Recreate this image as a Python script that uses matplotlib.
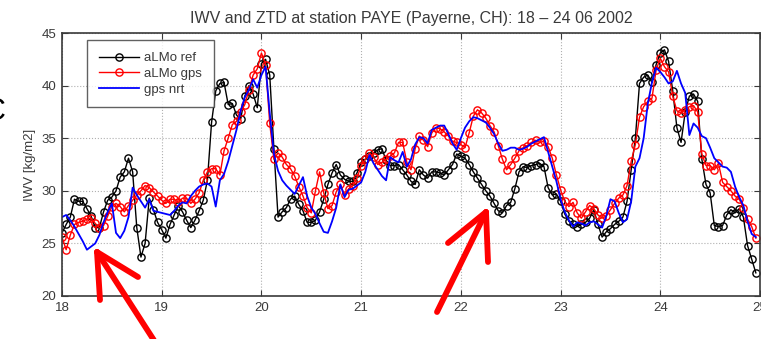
import numpy as np
import matplotlib
matplotlib.use("Agg")
import matplotlib.pyplot as plt
from matplotlib.lines import Line2D

plt.rcParams['font.family'] = ['Liberation Sans', 'DejaVu Sans']

# hourly IWV values [kg/m2], 18.06 00h ... 24.06 23h
almo_ref = [
    26.0, 26.8, 27.5, 29.2, 29.0, 29.0, 28.3, 27.6, 26.5, 26.5, 28.0, 29.1,
    29.4, 30.0, 31.3, 31.8, 33.1, 31.8, 26.5, 23.7, 25.0, 29.3, 28.2, 27.0,
    26.3, 25.5, 26.8, 27.7, 28.6, 28.0, 27.2, 26.5, 27.2, 28.1, 29.1, 31.0,
    36.5, 39.5, 40.2, 40.3, 38.2, 38.3, 37.2, 36.8, 39.0, 40.0, 39.2, 37.9,
    42.1, 42.5, 41.0, 34.0, 27.5, 28.0, 28.4, 29.2, 29.5, 28.7, 28.1, 27.0,
    27.0, 27.2, 28.0, 29.2, 30.6, 31.7, 32.5, 31.5, 31.1, 30.9, 30.9, 31.7,
    32.7, 33.0, 33.3, 33.6, 33.9, 34.0, 32.9, 32.4, 32.4, 32.5, 32.0, 31.5,
    30.9, 30.6, 32.0, 31.5, 31.2, 31.8, 31.8, 31.7, 31.5, 32.0, 32.5, 33.5,
    33.3, 33.1, 32.5, 31.8, 31.2, 30.6, 30.0, 29.5, 28.8, 28.1, 27.9, 28.6,
    28.9, 30.2, 31.8, 32.3, 32.2, 32.4, 32.5, 32.6, 32.3, 30.3, 29.6, 29.7,
    29.0, 27.8, 27.1, 26.8, 26.6, 26.8, 27.0, 27.4, 28.2, 26.8, 25.6, 26.1,
    26.4, 26.8, 27.1, 27.5, 29.0, 32.0, 35.0, 40.2, 40.8, 41.0, 40.3, 42.0,
    43.1, 43.4, 42.3, 39.5, 36.0, 34.6, 37.5, 39.0, 39.2, 38.5, 33.0, 30.6,
    29.8, 26.7, 26.6, 26.7, 27.7, 28.2, 27.9, 28.3, 27.5, 24.8, 23.5, 22.2,
]
almo_gps = [
    25.6, 24.4, 25.8, 26.8, 27.0, 27.1, 27.3, 27.4, 26.9, 26.5, 26.7, 27.6,
    28.5, 28.8, 28.5, 28.0, 28.6, 29.1, 29.6, 30.0, 30.5, 30.3, 29.9, 29.5,
    29.1, 28.8, 29.2, 29.2, 28.9, 29.3, 29.3, 28.8, 29.2, 29.8, 31.0, 31.8,
    32.1, 32.1, 31.5, 33.8, 35.0, 36.3, 36.6, 37.5, 38.2, 39.6, 41.0, 41.6,
    43.1, 42.0, 36.4, 33.0, 33.6, 33.2, 32.5, 32.1, 31.4, 30.4, 29.5, 28.4,
    27.9, 30.0, 31.8, 29.8, 28.3, 28.6, 29.9, 30.6, 29.6, 30.2, 30.5, 31.2,
    32.4, 33.0, 33.6, 33.2, 32.5, 32.7, 33.0, 33.3, 33.6, 34.6, 34.6, 32.7,
    32.0, 34.0, 35.2, 34.8, 34.2, 35.5, 36.0, 35.9, 35.6, 35.2, 34.7, 34.6,
    34.4, 34.1, 35.5, 37.1, 37.7, 37.4, 36.9, 36.2, 35.6, 34.3, 33.0, 32.0,
    32.5, 33.1, 33.8, 34.1, 34.3, 34.6, 34.8, 34.6, 34.7, 34.2, 33.1, 31.5,
    30.1, 29.0, 28.5, 28.9, 27.9, 27.4, 28.0, 28.6, 28.3, 27.7, 27.4, 27.6,
    28.2, 28.8, 29.3, 29.6, 30.5, 32.8, 34.4, 37.0, 38.0, 38.5, 38.8, 41.5,
    42.6, 41.8, 41.3, 39.0, 37.6, 37.4, 37.7, 38.0, 38.1, 37.5, 33.5, 32.4,
    32.4, 32.0, 32.6, 30.8, 30.4, 30.0, 29.5, 29.2, 28.4, 27.3, 26.6, 25.5,
]
gps_nrt = [
    27.5, 27.7, 27.2, 26.6, 25.9, 25.2, 24.4, 24.7, 25.0, 25.8, 27.0, 28.0,
    28.8, 26.0, 25.5, 26.2, 27.5, 30.3, 29.6, 29.0, 28.4, 29.2, 28.1, 28.0,
    27.9, 27.8, 27.7, 28.1, 28.6, 28.9, 28.8, 29.5, 30.0, 30.4, 30.6, 30.7,
    30.4, 28.5, 31.0, 31.6, 32.8, 34.3, 35.8, 37.6, 38.9, 39.6, 40.6, 39.8,
    41.0, 41.8, 37.4, 33.5, 31.9, 31.0, 30.5, 30.1, 29.7, 30.5, 31.3, 29.5,
    28.4, 27.8, 26.9, 26.1, 26.0, 27.1, 28.4, 30.6, 29.4, 30.1, 30.2, 30.5,
    30.8, 31.8, 33.4, 32.6, 32.0, 31.4, 31.0, 33.2, 32.9, 32.7, 33.7, 32.3,
    33.0, 34.4, 35.1, 35.0, 34.5, 35.8, 36.0, 36.2, 36.2, 35.4, 34.5, 33.9,
    35.0, 36.0, 36.6, 37.0, 36.9, 36.7, 36.5, 36.0, 35.4, 34.5, 33.8, 33.9,
    34.1, 34.1, 33.9, 34.0, 34.2, 34.5, 34.7, 34.9, 35.1, 33.7, 32.3, 30.9,
    29.2, 28.0, 27.2, 26.6, 27.0, 26.9, 26.7, 27.0, 27.1, 26.8, 26.5, 27.6,
    29.2, 29.0, 27.9, 27.0, 27.3, 29.0, 32.3, 33.1, 35.0, 38.3, 40.3, 41.7,
    41.3, 40.8, 40.2, 40.4, 41.4, 40.2, 39.3, 35.3, 36.4, 36.0, 35.2, 35.0,
    34.1, 33.1, 32.7, 32.3, 32.2, 31.8, 30.4, 29.4, 28.6, 27.1, 25.9, 25.6,
]
day_ticks = [18, 19, 20, 21, 22, 23, 24, 25]
iwv_ticks = [20, 25, 30, 35, 40, 45]

# red hand-drawn arrows on the slide (pixel coords, y from top)
arrows = [
    {"tip": (97, 252), "tail": (157, 345), "wings": [(100, 300), (138, 277)]},
    {"tip": (486, 212), "tail": (437, 312), "wings": [(488, 262), (448, 243)]},
]

t = 18 + np.arange(len(almo_ref)) / 24.0

W, H = 761, 339
fig = plt.figure(figsize=(W / 100, H / 100), dpi=100)
ax = fig.add_axes([62 / W, 43 / H, 698 / W, 263 / H])

dark = '#3a3a3a'
ax.plot(t, almo_ref, '-o', color='k', lw=1.0, ms=5.2, mfc='none', mew=1.0, label='aLMo ref')
ax.plot(t, almo_gps, '-o', color='#ff0000', lw=1.0, ms=5.2, mfc='none', mew=1.0, label='aLMo gps')
ax.plot(t, gps_nrt, '-', color='#0000ff', lw=1.3, label='gps nrt')

ax.set_xlim(18, 25)
ax.set_ylim(20, 45)
ax.set_xticks(day_ticks)
ax.set_yticks(iwv_ticks)
ax.grid(True, ls=':', color='#b0b0b0', lw=0.8)
ax.tick_params(direction='in', top=True, right=True, length=4, labelsize=9.5,
               colors=dark, pad=4)
for s in ax.spines.values():
    s.set_color(dark)
    s.set_linewidth(1.2)

ax.set_ylabel('IWV [kg/m2]', fontsize=9.5, color=dark, labelpad=4)
ax.set_title('IWV and ZTD at station PAYE (Payerne, CH): 18 – 24 06 2002',
             fontsize=11.5, color=dark, pad=7)

leg = ax.legend(loc='upper left', bbox_to_anchor=(0.036, 0.972), fontsize=9.5,
                frameon=True, fancybox=False, edgecolor=dark, handlelength=3.0,
                labelspacing=0.25, borderpad=0.9, borderaxespad=0,
                handletextpad=0.4)
leg.get_frame().set_linewidth(1.0)
for txt in leg.get_texts():
    txt.set_color(dark)

# cut-off slide letter at the left edge
fig.text(5 / W, 1 - 112 / H, 'C', fontsize=22, ha='right', va='center', color='k')

for a in arrows:
    pts = [a["tail"], a["tip"]]
    for w in a["wings"]:
        fig.add_artist(Line2D([a["tip"][0] / W, w[0] / W],
                              [1 - a["tip"][1] / H, 1 - w[1] / H],
                              transform=fig.transFigure, color='#ff0000',
                              lw=4.2, solid_capstyle='round'))
    fig.add_artist(Line2D([p[0] / W for p in pts], [1 - p[1] / H for p in pts],
                          transform=fig.transFigure, color='#ff0000', lw=4.2,
                          solid_capstyle='round'))

fig.savefig('out.png', dpi=100)
